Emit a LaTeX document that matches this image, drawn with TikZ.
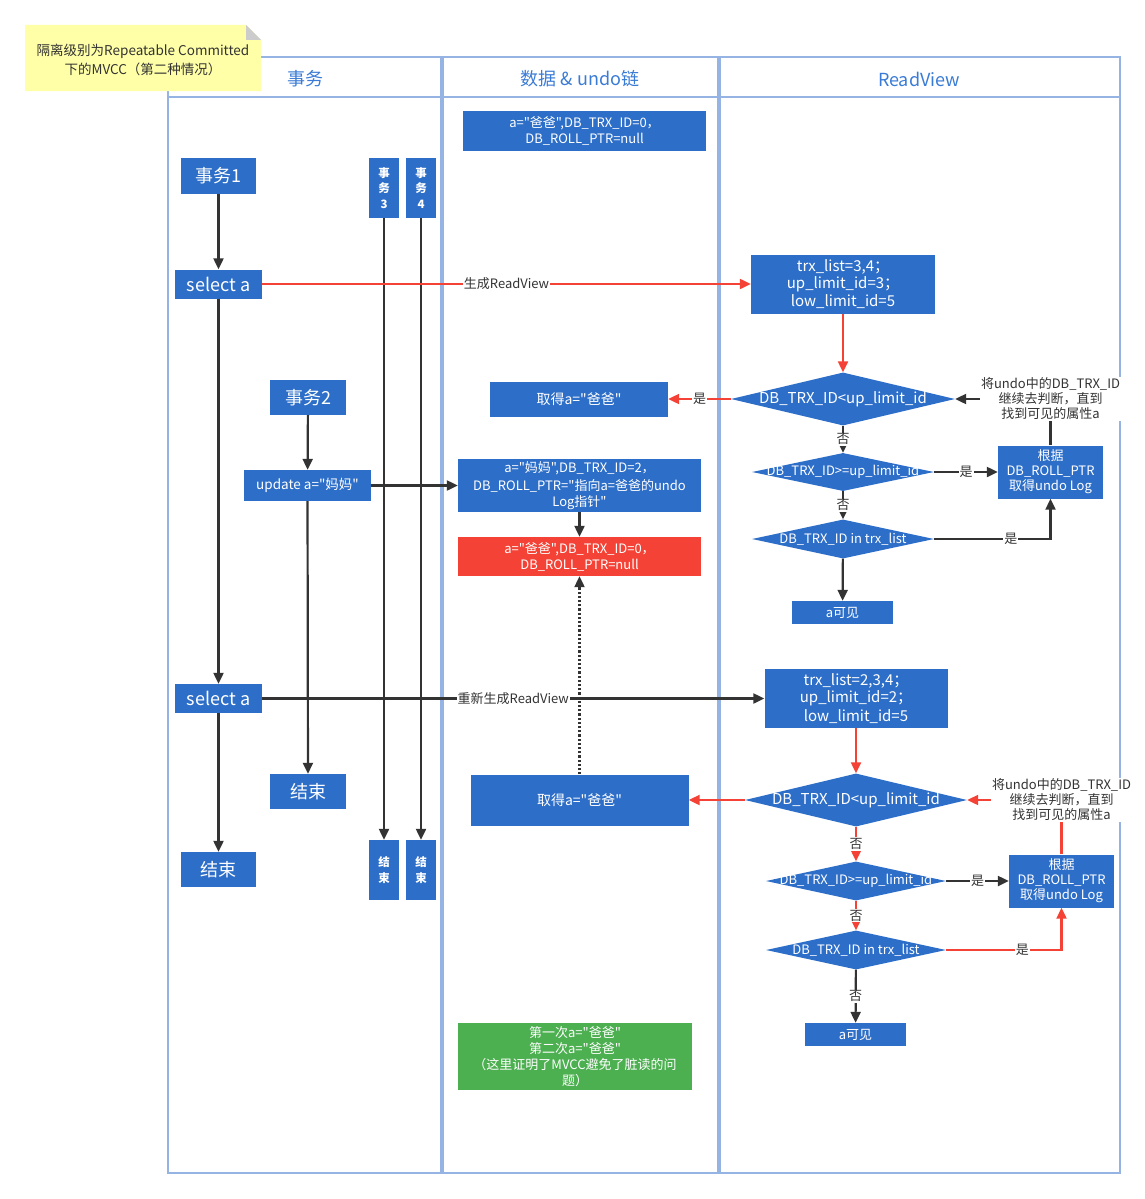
\documentclass[tikz,border=0pt]{standalone}
\usepackage{fontspec}
\setmainfont{Noto Sans CJK SC}[Ligatures=TeXOff]
\usepackage{xcolor}
\usepackage{tikz}
\usetikzlibrary{shapes.geometric,arrows.meta}

\definecolor{boxblue}{HTML}{2D6EC8}
\definecolor{boxred}{HTML}{F44336}
\definecolor{boxgreen}{HTML}{4CAF50}
\definecolor{lanecol}{HTML}{95B3E3}
\definecolor{headcol}{HTML}{3A7BD5}
\definecolor{linecol}{HTML}{333333}
\definecolor{notecol}{HTML}{FFFFA8}

\newcommand{\fs}[1]{\fontsize{#1}{#1}\selectfont}

\tikzset{
  box/.style={fill=boxblue, text=white, inner sep=0pt, align=center, font=\fs{13}},
  cond/.style={diamond, fill=boxblue, text=white, inner xsep=-60pt, inner ysep=-8pt, font=\fs{13}},
  flow/.style={draw=linecol, line width=2.2pt, -{Triangle[length=11pt,width=10pt]}},
  redflow/.style={flow, draw=boxred},
  lbl/.style={fill=white, inner sep=1pt, text=linecol, font=\fs{13}, align=center},
  lane/.style={draw=lanecol, line width=1.5pt},
  lanehead/.style={text=headcol, font=\fs{18}}
}

\begin{document}
\begin{tikzpicture}[x=1pt, y=-1pt]
        \useasboundingbox (0,0) rectangle (1145,1199);
        % lanes
        \draw[lane] (168,57) rectangle (441,1173);
        \draw[lane] (443,57) rectangle (718,1173);
        \draw[lane] (720,57) rectangle (1120,1173);
        \draw[lane] (168,97) -- (441,97);
        \draw[lane] (443,97) -- (718,97);
        \draw[lane] (720,97) -- (1120,97);
        \node[lanehead] (h1) at (305,79) {事务};
        \node[lanehead] (h2) at (580,79) {数据 \& undo链};
        \node[lanehead] (h3) at (919,79) {ReadView};

        % note
        \fill[notecol] (25,25) -- (246,25) -- (261,40) -- (261,91) -- (25,91) -- cycle;
        \fill[black!20] (246,25) -- (261,40) -- (246,40) -- cycle;
        \node[text=linecol, font=\fs{13.5}, align=center, inner sep=0pt] (note) at (143,60)
          {隔离级别为Repeatable Committed\\[3pt]下的MVCC（第二种情况）};

        % transactions
        \node[box, minimum width=75, minimum height=36, font=\fs{18}] (t1) at (218.5,176) {事务1};
        \node[box, minimum width=30, minimum height=60, font=\fs{11.5}\bfseries] (t3) at (384,188) {事\\[4pt]务\\[4pt]3};
        \node[box, minimum width=30, minimum height=60, font=\fs{11.5}\bfseries] (t4) at (421,188) {事\\[4pt]务\\[4pt]4};
        \node[box, minimum width=87, minimum height=29, font=\fs{18}] (sel1) at (218.5,284) {select a};
        \node[box, minimum width=76, minimum height=35, font=\fs{18}] (t2) at (308,397.5) {事务2};
        \node[box, minimum width=127, minimum height=31, font=\fs{13.5}] (upd) at (307.5,485.5) {update a="妈妈"};
        \node[box, minimum width=87, minimum height=29, font=\fs{18}] (sel2) at (218.5,698.5) {select a};
        \node[box, minimum width=76, minimum height=35, font=\fs{18}] (end2) at (308,791.5) {结束};
        \node[box, minimum width=75, minimum height=35, font=\fs{18}] (end1) at (218.5,869.5) {结束};
        \node[box, minimum width=30, minimum height=60, font=\fs{11.5}\bfseries] (end3) at (384,870) {结\\[4pt]束};
        \node[box, minimum width=30, minimum height=60, font=\fs{11.5}\bfseries] (end4) at (421,870) {结\\[4pt]束};

        % data and undo
        \node[box, minimum width=243, minimum height=40] (data0) at (584.5,131) {a="爸爸",DB\_TRX\_ID=0，\\[3pt]DB\_ROLL\_PTR=null};
        \node[box, minimum width=178, minimum height=35, font=\fs{14}] (get1) at (579,399) {取得a="爸爸"};
        \node[box, minimum width=243, minimum height=53] (mama) at (579.5,485.5) {a="妈妈",DB\_TRX\_ID=2，\\[3pt]DB\_ROLL\_PTR="指向a=爸爸的undo\\[3pt]Log指针"};
        \node[box, fill=boxred, minimum width=243, minimum height=39] (undo) at (579.5,556.5) {a="爸爸",DB\_TRX\_ID=0，\\[3pt]DB\_ROLL\_PTR=null};
        \node[box, minimum width=218, minimum height=51, font=\fs{14}] (get2) at (579.5,800) {取得a="爸爸"};
        \node[box, fill=boxgreen, minimum width=234, minimum height=67] (res) at (575,1056.5) {第一次a="爸爸"\\[3pt]第二次a="爸爸"\\[3pt]（这里证明了MVCC避免了脏读的问\\[3pt]题）};

        % readview 1
        \node[box, minimum width=184, minimum height=59, font=\fs{15}] (rv1) at (843,284) {trx\_list=3,4；\\[2pt]up\_limit\_id=3；\\[2pt]low\_limit\_id=5};
        \node[cond, minimum width=224, minimum height=53, font=\fs{15}] (d1) at (843,399) {DB\_TRX\_ID<up\_limit\_id};
        \node[cond, minimum width=182, minimum height=38] (d2) at (843,472) {DB\_TRX\_ID>=up\_limit\_id};
        \node[cond, minimum width=182, minimum height=39] (d3) at (843,539) {DB\_TRX\_ID in trx\_list};
        \node[box, minimum width=105, minimum height=53] (gj1) at (1050.5,472) {根据\\[2pt]DB\_ROLL\_PTR\\[2pt]取得undo Log};
        \node[box, minimum width=101, minimum height=23] (vis1) at (842.5,612.5) {a可见};

        % readview 2
        \node[box, minimum width=183, minimum height=59, font=\fs{15}] (rv2) at (856,698.5) {trx\_list=2,3,4；\\[2pt]up\_limit\_id=2；\\[2pt]low\_limit\_id=5};
        \node[cond, minimum width=222, minimum height=53, font=\fs{15}] (d4) at (856,800) {DB\_TRX\_ID<up\_limit\_id};
        \node[cond, minimum width=180, minimum height=39] (d5) at (856,881) {DB\_TRX\_ID>=up\_limit\_id};
        \node[cond, minimum width=180, minimum height=39] (d6) at (856,950) {DB\_TRX\_ID in trx\_list};
        \node[box, minimum width=105, minimum height=53] (gj2) at (1061.5,881) {根据\\[2pt]DB\_ROLL\_PTR\\[2pt]取得undo Log};
        \node[box, minimum width=101, minimum height=23] (vis2) at (855.5,1034.5) {a可见};

        % transaction lines
        \draw[flow] (t1) -- (sel1);
        \draw[flow] (sel1) -- (sel2);
        \draw[flow] (sel2) -- (end1);
        \draw[flow] (t3) -- (end3);
        \draw[flow] (t4) -- (end4);
        \draw[flow] (t2) -- (upd);
        \draw[flow] (upd) -- (end2);
        \draw[flow] (upd) -- (mama);
        \draw[flow] (mama) -- (undo);
        \draw[flow, dotted] (get2) -- (undo);

        % first read
        \draw[redflow] (sel1) -- node[lbl] {生成ReadView} (rv1);
        \draw[redflow] (rv1) -- (d1);
        \draw[redflow] (d1) -- node[lbl] {是} (get1);
        \draw[flow] (d1) -- node[lbl] {否} (d2);
        \draw[flow] (d2) -- node[lbl] {是} (gj1);
        \draw[flow] (d2) -- node[lbl] {否} (d3);
        \draw[flow] (d3) -| node[lbl, pos=0.33] {是} (gj1);
        \draw[flow] (d3) -- (vis1);
        \draw[flow] (gj1) |- node[lbl, pos=0.5] {将undo中的DB\_TRX\_ID\\[2pt]继续去判断，直到\\[2pt]找到可见的属性a} (d1);

        % second read
        \draw[flow] (sel2) -- node[lbl] {重新生成ReadView} (rv2);
        \draw[redflow] (rv2) -- (d4);
        \draw[redflow] (d4) -- (get2);
        \draw[redflow] (d4) -- node[lbl] {否} (d5);
        \draw[flow] (d5) -- node[lbl] {是} (gj2);
        \draw[redflow] (d5) -- node[lbl] {否} (d6);
        \draw[redflow] (d6) -| node[lbl, pos=0.33] {是} (gj2);
        \draw[flow] (d6) -- node[lbl] {否} (vis2);
        \draw[redflow] (gj2) |- node[lbl, pos=0.5] {将undo中的DB\_TRX\_ID\\[2pt]继续去判断，直到\\[2pt]找到可见的属性a} (d4);

\end{tikzpicture}
\end{document}
